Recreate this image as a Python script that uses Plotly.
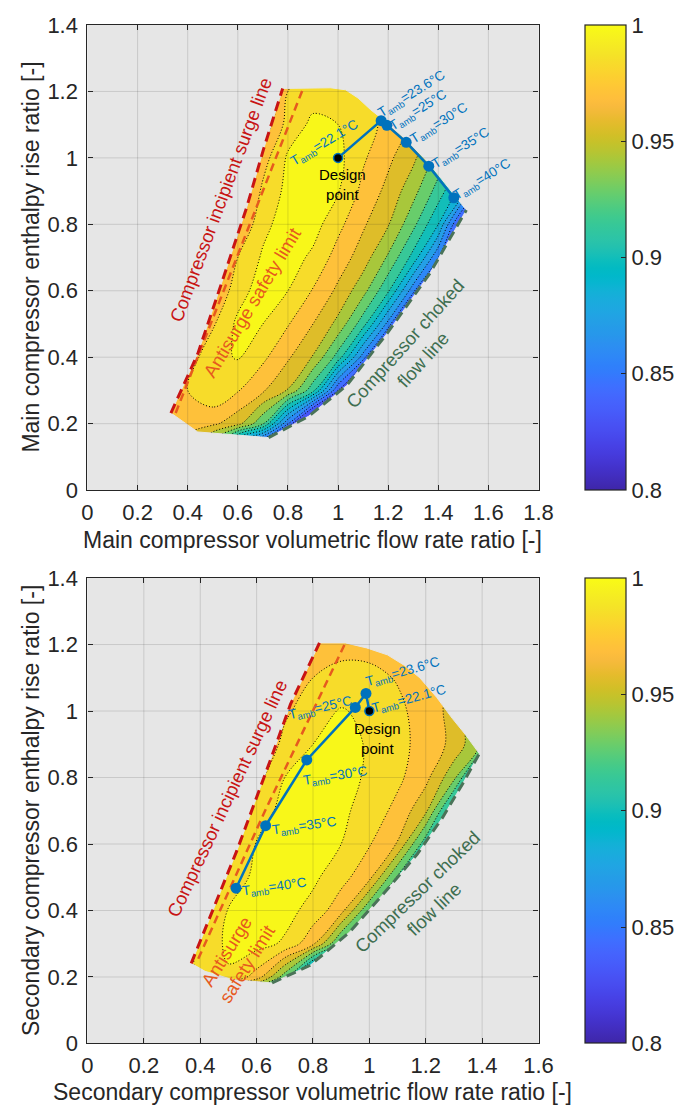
import numpy as np
import plotly.graph_objects as go

# ---------------------------------------------------------------- data
# Efficiency map grids (normalised isentropic efficiency)
MAIN_FLOW_GRID = [0.2, 0.3, 0.4, 0.5, 0.6, 0.7, 0.8, 0.9, 1.0, 1.1, 1.2, 1.3, 1.4, 1.5, 1.6, 1.7]
MAIN_HEAD_GRID = [0.1, 0.2, 0.3, 0.4, 0.5, 0.6, 0.7, 0.8, 0.9, 1.0, 1.1, 1.2, 1.3]
MAIN_EFF = [
    [.962, .956, .934, .890, .800, .760, .720, .720, .720, .720, .720, .720, .720, .720, .720, .720],
    [.958, .962, .965, .959, .947, .916, .845, .760, .700, .700, .700, .700, .700, .700, .700, .700],
    [.950, .958, .970, .981, .971, .958, .941, .905, .830, .760, .720, .700, .700, .700, .700, .700],
    [.940, .950, .962, .980, .985, .973, .958, .941, .908, .851, .780, .740, .720, .720, .720, .720],
    [.930, .940, .952, .968, .987, .984, .971, .956, .938, .906, .853, .770, .740, .720, .720, .720],
    [.920, .930, .940, .955, .978, .991, .984, .969, .953, .933, .902, .849, .770, .740, .720, .720],
    [.910, .920, .930, .940, .970, .986, .991, .981, .964, .949, .926, .895, .845, .760, .730, .720],
    [.900, .910, .920, .930, .955, .980, .991, .990, .974, .958, .943, .918, .886, .815, .750, .730],
    [.890, .900, .910, .920, .945, .973, .988, .996, .985, .966, .952, .933, .908, .877, .820, .760],
    [.880, .890, .900, .910, .930, .964, .986, .997, .988, .972, .959, .945, .923, .898, .860, .800],
    [.870, .880, .890, .900, .915, .945, .976, .987, .984, .976, .966, .954, .939, .925, .910, .890],
    [.860, .870, .880, .890, .900, .925, .970, .978, .978, .974, .966, .956, .945, .930, .915, .900],
    [.850, .860, .870, .880, .890, .910, .955, .968, .968, .965, .958, .950, .940, .925, .910, .895],
]

SEC_FLOW_GRID = [0.2, 0.3, 0.4, 0.5, 0.6, 0.7, 0.8, 0.9, 1.0, 1.1, 1.2, 1.3, 1.4, 1.5]
SEC_HEAD_GRID = [0.1, 0.2, 0.3, 0.4, 0.5, 0.6, 0.7, 0.8, 0.9, 1.0, 1.1, 1.2, 1.3]
SEC_EFF = [
    [.955, .970, .949, .880, .840, .800, .780, .760, .760, .760, .760, .760, .760, .760],
    [.955, .960, .972, .982, .964, .920, .840, .780, .760, .760, .760, .760, .760, .760],
    [.940, .955, .973, .987, .989, .982, .959, .910, .840, .800, .780, .780, .780, .780],
    [.930, .945, .960, .985, .991, .989, .979, .961, .915, .850, .800, .780, .780, .780],
    [.925, .940, .955, .974, .988, .994, .987, .975, .960, .912, .860, .820, .800, .800],
    [.915, .930, .945, .964, .985, .992, .991, .984, .971, .955, .905, .855, .820, .800],
    [.905, .920, .935, .950, .976, .989, .996, .987, .978, .966, .945, .885, .840, .820],
    [.895, .910, .925, .940, .965, .984, .992, .991, .981, .973, .960, .932, .870, .840],
    [.885, .900, .915, .930, .952, .975, .984, .991, .982, .974, .965, .952, .926, .900],
    [.875, .890, .905, .920, .940, .967, .979, .985, .981, .973, .964, .951, .923, .900],
    [.865, .880, .895, .910, .930, .949, .970, .975, .974, .969, .962, .952, .940, .925],
    [.855, .870, .885, .900, .915, .935, .958, .965, .965, .962, .957, .950, .940, .930],
    [.845, .860, .875, .890, .905, .925, .945, .955, .955, .952, .948, .942, .933, .924],
]

# Operating envelope lines
MAIN_SURGE_X = [0.333, 0.44, 0.525, 0.635, 0.703, 0.779]
MAIN_SURGE_Y = [0.232, 0.41, 0.60, 0.85, 1.027, 1.209]
MAIN_ANTISURGE_X = [0.352, 0.858]
MAIN_ANTISURGE_Y = [0.232, 1.204]
MAIN_CHOKE_X = [0.723, 0.882, 1.035, 1.20, 1.367, 1.512]
MAIN_CHOKE_Y = [0.158, 0.222, 0.315, 0.476, 0.653, 0.843]
MAIN_TOP_EDGE_X = [0.97, 1.03, 1.08, 1.13, 1.175, 1.275, 1.367, 1.467]
MAIN_TOP_EDGE_Y = [1.211, 1.205, 1.18, 1.145, 1.118, 1.052, 0.98, 0.885]
MAIN_BOTTOM_EDGE_X = [0.44]
MAIN_BOTTOM_EDGE_Y = [0.175]

SEC_SURGE_X = [0.368, 0.45, 0.53, 0.65, 0.72, 0.823]
SEC_SURGE_Y = [0.241, 0.41, 0.58, 0.855, 1.02, 1.205]
SEC_ANTISURGE_X = [0.393, 0.63, 0.915]
SEC_ANTISURGE_Y = [0.255, 0.70, 1.205]
SEC_CHOKE_X = [0.655, 0.79, 0.93, 1.05, 1.17, 1.26, 1.33, 1.39]
SEC_CHOKE_Y = [0.182, 0.235, 0.335, 0.45, 0.57, 0.68, 0.78, 0.872]
SEC_TOP_EDGE_X = [0.915, 0.99, 1.064, 1.125, 1.179, 1.24, 1.294, 1.34]
SEC_TOP_EDGE_Y = [1.205, 1.19, 1.169, 1.137, 1.10, 1.04, 0.978, 0.93]
SEC_BOTTOM_EDGE_X = [0.516, 0.417]
SEC_BOTTOM_EDGE_Y = [0.192, 0.217]

# Off-design operating points (ambient temperature)
TAMB_LABELS = ["23.6", "25", "30", "35", "40"]
DESIGN_TAMB = "22.1"
MAIN_OP_X = [1.172, 1.195, 1.272, 1.362, 1.462]
MAIN_OP_Y = [1.112, 1.098, 1.047, 0.975, 0.880]
SEC_OP_X = [0.988, 0.950, 0.778, 0.632, 0.527]
SEC_OP_Y = [1.053, 1.011, 0.853, 0.655, 0.467]
DESIGN_X = [1.0]
DESIGN_Y = [1.0]

# Axis ticks
MAIN_X_TICKS = [0, 0.2, 0.4, 0.6, 0.8, 1.0, 1.2, 1.4, 1.6, 1.8]
SEC_X_TICKS = [0, 0.2, 0.4, 0.6, 0.8, 1.0, 1.2, 1.4, 1.6]
Y_TICKS = [0, 0.2, 0.4, 0.6, 0.8, 1.0, 1.2, 1.4]
CB_TICKS = [0.8, 0.85, 0.9, 0.95, 1.0]
CB_TICKTEXT = ["0.8", "0.85", "0.9", "0.95", "1"]

# ---------------------------------------------------------------- style
FONT = "Liberation Sans, Arial, Helvetica, sans-serif"
BG = "#e6e6e6"
AXC = "#262626"
BLUE = "#0072bd"
RED = "#c81414"
ORANGE = "#e65a1e"
GREEN = "#4a7358"
GREEN_TXT = "#3e6e50"
LEVEL_START, LEVEL_END, LEVEL_STEP = 0.830, 0.984, 0.014
CMIN, CMAX = 0.8, 1.0

PARULA = [
    [0.2422, 0.1504, 0.6603], [0.2504, 0.1650, 0.7076], [0.2578, 0.1818, 0.7511], [0.2647, 0.1978, 0.7952],
    [0.2706, 0.2147, 0.8364], [0.2751, 0.2342, 0.8710], [0.2783, 0.2559, 0.8991], [0.2803, 0.2782, 0.9221],
    [0.2813, 0.3006, 0.9414], [0.2810, 0.3228, 0.9579], [0.2795, 0.3447, 0.9717], [0.2760, 0.3667, 0.9829],
    [0.2699, 0.3892, 0.9906], [0.2602, 0.4123, 0.9952], [0.2440, 0.4358, 0.9988], [0.2206, 0.4603, 0.9973],
    [0.1963, 0.4847, 0.9892], [0.1834, 0.5074, 0.9798], [0.1786, 0.5289, 0.9682], [0.1764, 0.5499, 0.9520],
    [0.1687, 0.5703, 0.9359], [0.1540, 0.5902, 0.9218], [0.1460, 0.6091, 0.9079], [0.1380, 0.6276, 0.8973],
    [0.1248, 0.6459, 0.8883], [0.1113, 0.6635, 0.8763], [0.0952, 0.6798, 0.8598], [0.0689, 0.6948, 0.8394],
    [0.0297, 0.7082, 0.8163], [0.0036, 0.7203, 0.7917], [0.0067, 0.7312, 0.7660], [0.0433, 0.7411, 0.7394],
    [0.0964, 0.7500, 0.7120], [0.1408, 0.7584, 0.6842], [0.1717, 0.7670, 0.6554], [0.1938, 0.7758, 0.6251],
    [0.2161, 0.7843, 0.5923], [0.2470, 0.7918, 0.5567], [0.2906, 0.7973, 0.5188], [0.3406, 0.8008, 0.4789],
    [0.3909, 0.8029, 0.4354], [0.4456, 0.8024, 0.3909], [0.5044, 0.7993, 0.3480], [0.5616, 0.7942, 0.3045],
    [0.6174, 0.7876, 0.2612], [0.6720, 0.7793, 0.2227], [0.7242, 0.7698, 0.1910], [0.7738, 0.7598, 0.1646],
    [0.8203, 0.7498, 0.1535], [0.8634, 0.7406, 0.1596], [0.9035, 0.7330, 0.1774], [0.9393, 0.7288, 0.2100],
    [0.9728, 0.7298, 0.2394], [0.9956, 0.7434, 0.2371], [0.9970, 0.7659, 0.2199], [0.9952, 0.7893, 0.2028],
    [0.9892, 0.8136, 0.1885], [0.9786, 0.8386, 0.1766], [0.9676, 0.8639, 0.1643], [0.9610, 0.8890, 0.1537],
    [0.9597, 0.9135, 0.1423], [0.9628, 0.9373, 0.1265], [0.9691, 0.9606, 0.1064], [0.9769, 0.9839, 0.0805],
]


def parula(t):
    t = min(max(t, 0.0), 1.0)
    pos = t * (len(PARULA) - 1)
    i = int(np.floor(pos))
    if i >= len(PARULA) - 1:
        c = PARULA[-1]
    else:
        f = pos - i
        c = [PARULA[i][k] * (1 - f) + PARULA[i + 1][k] * f for k in range(3)]
    return "rgb(%d,%d,%d)" % tuple(int(round(255 * v)) for v in c)


# continuous colour bar scale
CBAR_SCALE = [[i / 63.0, parula(i / 63.0)] for i in range(64)]
# filled contour bands: every band gets the colour at its upper level (MATLAB-like look)
NC = int(round((LEVEL_END - LEVEL_START) / LEVEL_STEP)) + 1
BAND_SCALE = [[m / NC, parula((LEVEL_START + m * LEVEL_STEP - CMIN) / (CMAX - CMIN))] for m in range(NC + 1)]

W, H = 699, 1120
XDOM = [84 / W, 549 / W]
YDOM1 = [1 - 489 / H, 1 - 13.3 / H]
YDOM2 = [1 - 1055 / H, 1 - 579 / H]

fig = go.Figure()


def mask_trace(bx, by, xr, yr, xa, ya):
    pts = list(zip(bx, by))
    n = len(pts)
    area = sum(pts[i][0] * pts[(i + 1) % n][1] - pts[(i + 1) % n][0] * pts[i][1] for i in range(n))
    if area > 0:
        pts = pts[::-1]
    k = min(range(n), key=lambda i: pts[i][1])
    ring = pts[k:] + pts[:k] + [pts[k]]
    x0, x1 = xr[0] - 0.05, xr[1] + 0.05
    y0, y1 = yr[0] - 0.05, yr[1] + 0.05
    sx = ring[0][0]
    xs = [sx, x1, x1, x0, x0, sx] + [p[0] for p in ring] + [sx]
    ys = [y0, y0, y1, y1, y0, y0] + [p[1] for p in ring] + [y0]
    return go.Scatter(x=xs, y=ys, mode="lines", fill="toself", fillcolor=BG,
                      line=dict(color=BG, width=1, simplify=False), hoverinfo="skip",
                      showlegend=False, xaxis=xa, yaxis=ya)


def grid_trace(xticks, yticks, xa, ya):
    gx, gy = [], []
    for v in xticks[1:-1]:
        gx += [v, v, None]
        gy += [yticks[0], yticks[-1], None]
    for v in yticks[1:-1]:
        gx += [xticks[0], xticks[-1], None]
        gy += [v, v, None]
    return go.Scatter(x=gx, y=gy, mode="lines", line=dict(color="rgba(38,38,38,0.15)", width=1),
                      hoverinfo="skip", showlegend=False, xaxis=xa, yaxis=ya)


def add_panel(xa, ya, fgrid, hgrid, eff, surge, anti, choke, top_edge, bot_edge,
              op, xticks, cb_y):
    fig.add_trace(go.Contour(
        x=fgrid, y=hgrid, z=eff, autocontour=False,
        contours=dict(start=LEVEL_START, end=LEVEL_END, size=LEVEL_STEP,
                      coloring="fill", showlines=True),
        line=dict(color="black", width=1, dash="1px,2px", smoothing=1),
        colorscale=BAND_SCALE, showscale=False, hoverinfo="skip",
        xaxis=xa, yaxis=ya))
    # operating envelope boundary built from the line arrays
    bx = list(surge[0]) + list(top_edge[0]) + list(choke[0])[::-1] + list(bot_edge[0])
    by = list(surge[1]) + list(top_edge[1]) + list(choke[1])[::-1] + list(bot_edge[1])
    fig.add_trace(mask_trace(bx, by, [xticks[0], xticks[-1]], [Y_TICKS[0], Y_TICKS[-1]], xa, ya))
    fig.add_trace(grid_trace(xticks, Y_TICKS, xa, ya))
    fig.add_trace(go.Scatter(x=anti[0], y=anti[1], mode="lines",
                             line=dict(color=ORANGE, width=2.5, dash="8px,5px"),
                             hoverinfo="skip", showlegend=False, xaxis=xa, yaxis=ya))
    fig.add_trace(go.Scatter(x=surge[0], y=surge[1], mode="lines",
                             line=dict(color=RED, width=3, dash="10px,6px"),
                             hoverinfo="skip", showlegend=False, xaxis=xa, yaxis=ya))
    fig.add_trace(go.Scatter(x=choke[0], y=choke[1], mode="lines",
                             line=dict(color=GREEN, width=3, dash="10px,6px"),
                             hoverinfo="skip", showlegend=False, xaxis=xa, yaxis=ya))
    fig.add_trace(go.Scatter(x=DESIGN_X + list(op[0]), y=DESIGN_Y + list(op[1]), mode="lines",
                             line=dict(color=BLUE, width=2.5),
                             hoverinfo="skip", showlegend=False, xaxis=xa, yaxis=ya))
    fig.add_trace(go.Scatter(x=op[0], y=op[1], mode="markers",
                             marker=dict(color=BLUE, size=11),
                             hoverinfo="skip", showlegend=False, xaxis=xa, yaxis=ya))
    fig.add_trace(go.Scatter(x=DESIGN_X, y=DESIGN_Y, mode="markers",
                             marker=dict(color="black", size=9, line=dict(color=BLUE, width=1.5)),
                             hoverinfo="skip", showlegend=False, xaxis=xa, yaxis=ya))
    # colour bar
    fig.add_trace(go.Scatter(
        x=[-1], y=[-1], mode="markers", hoverinfo="skip", showlegend=False, xaxis=xa, yaxis=ya,
        marker=dict(size=1, color=[0.9], cmin=CMIN, cmax=CMAX, colorscale=CBAR_SCALE, showscale=True,
                    colorbar=dict(x=597 / W, xanchor="left", xpad=0, y=cb_y, yanchor="middle",
                                  len=476 / H, lenmode="fraction", ypad=0, thickness=41,
                                  outlinewidth=1.2, outlinecolor=AXC, ticks="inside", ticklen=5,
                                  tickwidth=1.2, tickcolor=AXC, tickvals=CB_TICKS,
                                  ticktext=CB_TICKTEXT,
                                  tickfont=dict(size=22, color=AXC, family=FONT)))))


add_panel("x", "y", MAIN_FLOW_GRID, MAIN_HEAD_GRID, MAIN_EFF,
          (MAIN_SURGE_X, MAIN_SURGE_Y), (MAIN_ANTISURGE_X, MAIN_ANTISURGE_Y),
          (MAIN_CHOKE_X, MAIN_CHOKE_Y), (MAIN_TOP_EDGE_X, MAIN_TOP_EDGE_Y),
          (MAIN_BOTTOM_EDGE_X, MAIN_BOTTOM_EDGE_Y), (MAIN_OP_X, MAIN_OP_Y),
          MAIN_X_TICKS, (YDOM1[0] + YDOM1[1]) / 2)
add_panel("x2", "y2", SEC_FLOW_GRID, SEC_HEAD_GRID, SEC_EFF,
          (SEC_SURGE_X, SEC_SURGE_Y), (SEC_ANTISURGE_X, SEC_ANTISURGE_Y),
          (SEC_CHOKE_X, SEC_CHOKE_Y), (SEC_TOP_EDGE_X, SEC_TOP_EDGE_Y),
          (SEC_BOTTOM_EDGE_X, SEC_BOTTOM_EDGE_Y), (SEC_OP_X, SEC_OP_Y),
          SEC_X_TICKS, (YDOM2[0] + YDOM2[1]) / 2)

axis_common = dict(showgrid=False, zeroline=False, showline=True, linecolor=AXC, linewidth=1.2,
                   mirror="allticks", ticks="inside", ticklen=5, tickwidth=1.2, tickcolor=AXC,
                   tickfont=dict(size=22, color=AXC, family=FONT), tickmode="array")

annotations = []


def ann(text, x, y, xref, yref, size, color, angle=0):
    annotations.append(dict(text=text, x=x, y=y, xref=xref, yref=yref, showarrow=False,
                            xanchor="center", yanchor="middle", textangle=angle, align="center",
                            font=dict(size=size, color=color, family=FONT)))


def tamb(t):
    return "T<sub>amb</sub>=" + t + "°C"


# --- main compressor (top)
ann("Compressor incipient surge line", 0.532, 0.875, "x", "y", 18.5, RED, -69.5)
ann("Antisurge safety limit", 0.658, 0.564, "x", "y", 18.5, ORANGE, -59)
ann("Compressor choked<br>flow line", 1.303, 0.418, "x", "y", 18.5, GREEN_TXT, -48)
ann("Design<br>point", 1.017, 0.92, "x", "y", 15, "black")
ann(tamb(DESIGN_TAMB), 0.946, 1.042, "x", "y", 13.5, BLUE, -31)
main_lab_pos = [(1.294, 1.191), (1.322, 1.142), (1.405, 1.103), (1.492, 1.027), (1.578, 0.934)]
for t, (lx, ly) in zip(TAMB_LABELS, main_lab_pos):
    ann(tamb(t), lx, ly, "x", "y", 13.5, BLUE, -32)

# --- secondary compressor (bottom)
ann("Compressor incipient surge line", 0.496, 0.736, "x2", "y2", 18.5, RED, -65)
ann("Antisurge<br>safety limit", 0.527, 0.257, "x2", "y2", 18.5, ORANGE, -58)
ann("Compressor choked<br>flow line", 1.20, 0.43, "x2", "y2", 18.5, GREEN_TXT, -44)
ann("Design<br>point", 1.03, 0.916, "x2", "y2", 15, "black")
ann(tamb(DESIGN_TAMB), 1.142, 1.035, "x2", "y2", 13.5, BLUE, -15)
sec_lab = [((1.119, 1.115), -16), ((0.826, 1.008), -13), ((0.881, 0.802), -9),
           ((0.771, 0.653), -8), ((0.662, 0.470), -8)]
for t, ((lx, ly), a) in zip(TAMB_LABELS, sec_lab):
    ann(tamb(t), lx, ly, "x2", "y2", 13.5, BLUE, a)

# --- axis titles
ann("Main compressor volumetric flow rate ratio [-]", 316.5 / W, 1 - 540 / H, "paper", "paper", 23, AXC)
ann("Main compressor enthalpy rise ratio [-]", 26 / W, 1 - 251 / H, "paper", "paper", 23, AXC, -90)
ann("Secondary compressor volumetric flow rate ratio [-]", 316.5 / W, 1 - 1105 / H, "paper", "paper", 23, AXC)
ann("Secondary compressor enthalpy rise ratio [-]", 26 / W, 1 - 817 / H, "paper", "paper", 23, AXC, -90)

fig.update_layout(
    width=W, height=H, margin=dict(l=0, r=0, t=0, b=0),
    paper_bgcolor="white", plot_bgcolor=BG, showlegend=False,
    font=dict(family=FONT, color=AXC),
    xaxis=dict(domain=XDOM, range=[0, 1.8], anchor="y", tickvals=MAIN_X_TICKS,
               ticklabelstandoff=2, **axis_common),
    yaxis=dict(domain=YDOM1, range=[0, 1.4], anchor="x", tickvals=Y_TICKS,
               ticklabelstandoff=4, **axis_common),
    xaxis2=dict(domain=XDOM, range=[0, 1.6], anchor="y2", tickvals=SEC_X_TICKS,
                ticklabelstandoff=2, **axis_common),
    yaxis2=dict(domain=YDOM2, range=[0, 1.4], anchor="x2", tickvals=Y_TICKS,
                ticklabelstandoff=4, **axis_common),
    annotations=annotations,
)

fig.write_html("out.html", config={"displayModeBar": False})
